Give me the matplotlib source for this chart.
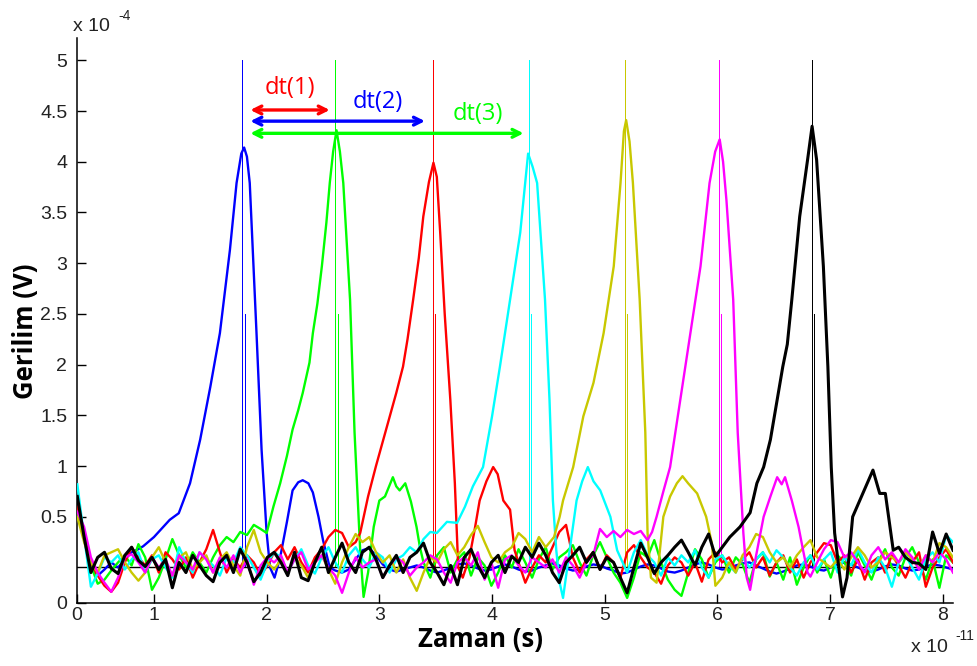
import numpy as np
import matplotlib
import matplotlib.pyplot as plt

matplotlib.use("Agg")

plt.rcParams["font.family"] = "Liberation Sans"

# units: time in 1e-11 s, voltage in 1e-4 V
grid = np.linspace(0.32, 8.09, 130)

colors = ["#0000ff", "#00ff00", "#ff0000", "#00ffff", "#c8c800", "#ff00ff", "#000000"]

# noise before/after each pulse, sampled on the shared grid
blue_pre = [0.62, 0.30, 0.02, -0.08, -0.02, 0.05, 0.0, 0.08, 0.15]
blue_t = [0.86, 0.905, 1.0, 1.14, 1.22, 1.32, 1.41, 1.50, 1.585, 1.674, 1.733, 1.775, 1.80, 1.825, 1.85,
          1.91, 1.955, 2.0, 2.03, 2.07, 2.12, 2.18, 2.23, 2.28, 2.32, 2.37, 2.41, 2.46, 2.5, 2.56]
blue_v = [0.18, 0.21, 0.3, 0.47, 0.535, 0.83, 1.26, 1.78, 2.31, 3.13, 3.79, 4.08, 4.14, 4.05, 3.79,
          2.31, 1.16, 0.34, 0.0, -0.1, 0.1, 0.45, 0.76, 0.84, 0.86, 0.83, 0.74, 0.5, 0.27, 0.0]
blue_post = [-0.03, -0.05, -0.02, 0.08, 0.17, 0.19, 0.12, 0.03, -0.02, -0.04,
             -0.02, 0.0, 0.02, 0.0, -0.03, -0.05, -0.03, 0.0, 0.03, 0.04,
             0.02, -0.01, -0.03, -0.02, 0.01, 0.03, 0.01, -0.02, -0.04, -0.03,
             0.0, 0.02, 0.04, 0.02, -0.01, -0.03, -0.02, 0.01, 0.03, 0.02,
             -0.01, -0.03, -0.06, -0.05, -0.02, 0.01, 0.03, 0.02, -0.01, -0.04,
             -0.05, -0.03, 0.0, 0.03, 0.05, 0.03, 0.0, -0.02, -0.01, 0.02,
             0.04, 0.05, 0.02, -0.01, -0.04, -0.06, -0.04, -0.01, 0.02, 0.03,
             0.01, -0.02, -0.03, 0.0, 0.03, 0.05, 0.03, 0.0, -0.03, -0.04,
             -0.02, 0.01, 0.03, 0.02, -0.01, -0.03, -0.02, 0.01, 0.03, 0.02,
             0.0, -0.02]

green_pre = [0.55, 0.28, 0.02, -0.16, -0.12, -0.03, 0.05, 0.12, 0.02, 0.23,
             0.1, -0.22, -0.1, 0.08, 0.28, 0.12, 0.0, 0.15, 0.05, -0.05,
             0.1, 0.22, 0.3, 0.25, 0.35, 0.32, 0.42, 0.38]
green_t = [2.0, 2.06, 2.12, 2.18, 2.23, 2.28, 2.32, 2.38, 2.41, 2.45, 2.49, 2.53, 2.56, 2.59, 2.62, 2.65,
           2.68, 2.74, 2.78, 2.83, 2.86, 2.9, 2.95, 3.0, 3.05, 3.12, 3.15, 3.18, 3.23, 3.28, 3.33, 3.36]
green_v = [0.34, 0.6, 0.83, 1.1, 1.36, 1.55, 1.72, 2.02, 2.31, 2.6, 2.97, 3.4, 3.79, 4.1, 4.31, 4.1,
           3.79, 2.64, 1.33, 0.17, -0.29, -0.05, 0.4, 0.66, 0.7, 0.89, 0.8, 0.76, 0.83, 0.65, 0.4, 0.2]
green_post = [0.05, -0.1, 0.12, 0.2, -0.05, 0.08, 0.15, -0.08, 0.1, 0.02,
              -0.18, -0.05, 0.12, 0.0, 0.18, 0.05, -0.1, 0.08, 0.2, -0.02,
              0.1, 0.15, 0.22, 0.05, -0.08, 0.12, 0.25, 0.1, -0.05, -0.15,
              -0.3, -0.1, 0.15, 0.1, 0.27, 0.05, -0.12, -0.22, -0.28, -0.05,
              0.18, 0.08, -0.1, 0.05, 0.12, -0.05, 0.1, 0.03, -0.15, 0.08,
              0.15, -0.09, 0.05, -0.12, 0.1, -0.17, 0.0, 0.12, -0.05, 0.08,
              -0.1, 0.12, 0.05, -0.08, 0.15, 0.02, -0.12, 0.06, 0.18, 0.0,
              -0.08, 0.1, 0.2, 0.05, -0.12, 0.08, -0.2, 0.12, 0.05]

red_pre = [0.6, 0.32, 0.05, -0.08, -0.18, -0.24, -0.15, 0.05, 0.2, 0.1,
           0.02, 0.12, -0.05, 0.15, 0.08, -0.02, 0.1, -0.1, 0.05, 0.18,
           0.37, 0.15, -0.05, 0.08, 0.0, 0.12, 0.05, -0.08, 0.02, 0.15,
           0.22, 0.08, 0.2, 0.05, -0.05, 0.1, 0.18, 0.3, 0.37, 0.34,
           0.2, 0.25]
red_t = [2.83, 2.9, 2.97, 3.06, 3.15, 3.21, 3.25, 3.30, 3.35, 3.39, 3.44, 3.48, 3.51, 3.54, 3.58,
         3.63, 3.67, 3.70, 3.74, 3.8, 3.85, 3.89, 3.95, 4.01, 4.05, 4.10, 4.16, 4.2]
red_v = [0.34, 0.7, 1.0, 1.36, 1.72, 1.98, 2.25, 2.64, 3.05, 3.46, 3.8, 3.99, 3.85, 3.3, 2.5,
         1.65, 0.83, 0.0, -0.1, 0.1, 0.4, 0.66, 0.85, 0.99, 0.92, 0.66, 0.57, 0.17]
red_post = [0.05, -0.15, 0.0, 0.12, 0.05, 0.2, 0.35, 0.42, 0.1, -0.05,
            0.08, 0.15, -0.02, 0.12, 0.05, -0.1, 0.15, 0.22, 0.1, 0.0,
            -0.05, -0.16, 0.02, 0.1, 0.05, -0.08, 0.05, -0.14, 0.08, 0.15,
            0.05, 0.1, -0.02, 0.08, 0.15, 0.0, 0.1, -0.08, 0.05, 0.12,
            -0.05, 0.08, -0.1, 0.05, 0.15, 0.24, 0.22, 0.05, 0.12, -0.05,
            0.08, -0.12, 0.05, 0.1, -0.05, 0.12, 0.02, -0.1, 0.05, 0.15,
            -0.19, 0.0, 0.1, 0.18, 0.05]

cyan_pre = [0.82, 0.3, -0.19, -0.06, 0.1, 0.05, 0.12, -0.02, 0.08, 0.15,
            -0.05, 0.08, 0.12, 0.0, -0.1, 0.2, 0.05, -0.05, 0.15, 0.08,
            0.02, -0.08, 0.1, 0.05, 0.2, 0.12, 0.0, -0.12, 0.05, 0.15,
            0.1, -0.05, 0.08, 0.18, 0.02, -0.06, 0.1, 0.2, 0.05, -0.05,
            0.12, 0.2, 0.08, 0.0, 0.15, 0.1, -0.05, 0.08, 0.12, 0.2,
            0.15, 0.28, 0.35]
cyan_t = [3.51, 3.6, 3.69, 3.76, 3.83, 3.92, 4.0, 4.07, 4.16, 4.25, 4.29, 4.32, 4.36, 4.4, 4.47,
          4.51, 4.54, 4.57, 4.6, 4.63, 4.68, 4.75, 4.8, 4.85, 4.9, 4.96, 5.05, 5.11]
cyan_v = [0.34, 0.45, 0.44, 0.6, 0.8, 0.99, 1.49, 1.98, 2.64, 3.3, 3.75, 4.08, 3.95, 3.79, 2.64,
          1.65, 0.66, 0.17, -0.15, -0.3, 0.1, 0.66, 0.85, 0.99, 0.85, 0.76, 0.5, 0.17]
cyan_post = [0.1, -0.05, 0.15, 0.27, 0.12, 0.05, -0.08, 0.1, 0.02, 0.12,
             0.05, 0.17, 0.0, -0.1, 0.08, 0.12, 0.02, -0.05, 0.1, 0.0,
             0.08, 0.15, 0.05, 0.17, 0.1, 0.0, -0.08, 0.05, 0.12, -0.02,
             0.08, 0.15, -0.05, 0.1, 0.02, 0.18, 0.05, -0.05, 0.1, 0.0,
             -0.19, 0.05, 0.12, 0.0, -0.12, 0.08, 0.15, 0.05, 0.32, 0.25]

yellow_pre = [0.5, 0.25, 0.05, -0.05, 0.12, 0.15, 0.18, 0.05, -0.05, -0.13,
              -0.05, 0.1, 0.2, 0.05, -0.08, 0.1, 0.15, -0.02, 0.05, 0.12,
              -0.05, 0.08, 0.15, 0.02, -0.08, 0.2, 0.37, 0.15, 0.05, -0.02,
              0.08, -0.05, 0.1, 0.02, -0.1, 0.05, 0.12, -0.02, -0.16, 0.05,
              0.2, 0.33, 0.25, 0.3, 0.15, 0.05, 0.12, -0.05, 0.08, -0.1,
              -0.23, -0.05, 0.1, 0.05, 0.18, 0.25, 0.12, 0.2, 0.32, 0.41,
              0.25, 0.1, 0.05, 0.15, 0.2, 0.34, 0.28, 0.15, 0.3, 0.2]
yellow_t = [4.55, 4.6, 4.63, 4.72, 4.81, 4.90, 4.99, 5.08, 5.14, 5.17, 5.19, 5.22, 5.25, 5.31, 5.36,
            5.38, 5.41, 5.46, 5.52, 5.58, 5.64, 5.69, 5.74, 5.82, 5.9, 5.95]
yellow_v = [0.3, 0.5, 0.66, 0.99, 1.49, 1.82, 2.31, 2.97, 3.79, 4.3, 4.41, 4.2, 3.79, 2.64, 1.33,
            0.34, -0.1, -0.15, 0.5, 0.7, 0.83, 0.9, 0.83, 0.73, 0.5, 0.24]
yellow_post = [-0.18, -0.1, 0.05, -0.05, 0.12, 0.2, 0.33, 0.3, 0.15, 0.05,
               0.1, 0.0, 0.12, 0.2, 0.27, 0.1, 0.05, 0.0, 0.08, -0.02,
               0.1, 0.2, 0.12, 0.0, 0.05, 0.15, 0.1, 0.05, 0.15, 0.08,
               0.0, 0.12, 0.05, 0.24, 0.2, 0.1]

magenta_pre = [0.55, 0.4, 0.1, -0.05, -0.15, -0.24, -0.1, 0.1, 0.13, 0.05,
               -0.05, 0.1, 0.0, 0.08, -0.08, 0.12, 0.05, -0.02, 0.15, 0.08,
               -0.05, 0.1, 0.0, 0.12, -0.05, 0.08, -0.17, 0.02, 0.1, 0.05,
               0.12, -0.05, 0.08, 0.15, -0.02, 0.05, 0.12, 0.0, -0.08, -0.25,
               -0.05, 0.1, 0.0, 0.05, 0.08, -0.1, 0.02, 0.1, 0.05, -0.08,
               0.0, 0.05, 0.12, 0.08, -0.05, -0.15, 0.05, 0.1, 0.02, 0.15,
               -0.12, 0.05, -0.2, 0.08, 0.12, 0.02, -0.05, 0.1, 0.05, 0.0,
               0.08, -0.05, 0.1, 0.02, -0.1, 0.05, 0.12, 0.38, 0.3, 0.36,
               0.3, 0.37, 0.33, 0.36, 0.27]
magenta_t = [5.42, 5.46, 5.52, 5.58, 5.67, 5.76, 5.85, 5.93, 5.98, 6.02, 6.05, 6.08, 6.14, 6.18,
             6.23, 6.26, 6.29, 6.34, 6.41, 6.47, 6.53, 6.57, 6.60, 6.66, 6.72, 6.76, 6.80]
magenta_v = [0.35, 0.5, 0.75, 0.99, 1.65, 2.31, 2.97, 3.79, 4.1, 4.22, 4.0, 3.62, 2.64, 1.33,
             0.34, -0.1, -0.22, 0.1, 0.5, 0.7, 0.89, 0.82, 0.89, 0.66, 0.4, 0.17, -0.05]
magenta_post = [-0.09, 0.05, 0.18, 0.27, 0.25, 0.1, 0.15, 0.05, -0.05, 0.12,
                0.2, 0.08, 0.15, 0.05, 0.18, 0.1, -0.02, 0.12, 0.05, 0.15,
                0.08, -0.05]

black_pre = [0.7, 0.3, -0.05, 0.1, 0.15, -0.01, -0.06, 0.12, 0.2, 0.07,
             0.01, 0.1, -0.02, 0.08, -0.2, 0.05, -0.05, 0.12, 0.02, -0.08,
             -0.14, 0.05, 0.12, -0.05, 0.18, 0.05, -0.14, -0.05, 0.1, 0.15,
             0.05, -0.08, 0.15, -0.1, -0.13, 0.05, 0.2, -0.05, 0.1, 0.24,
             0.05, -0.05, 0.15, 0.2, 0.08, -0.1, 0.02, 0.12, -0.05, 0.1,
             0.15, 0.24, 0.05, -0.05, -0.17, 0.02, -0.17, 0.1, 0.18, 0.02,
             -0.1, 0.05, 0.12, -0.05, 0.11, 0.05, 0.2, 0.1, 0.24, 0.12,
             -0.05, -0.15, 0.05, 0.12, 0.2, 0.05, 0.15, -0.02, 0.1, 0.05,
             -0.1, -0.25, 0.0, 0.24, 0.1, -0.06, 0.05, 0.12, 0.2, 0.27,
             0.15, 0.02, 0.2, 0.33, 0.11, 0.2]
black_t = [6.11, 6.20, 6.29, 6.35, 6.41, 6.47, 6.53, 6.58, 6.62, 6.66, 6.73, 6.80, 6.84, 6.88,
           6.94, 6.98, 7.01, 7.04, 7.09, 7.11, 7.15, 7.20, 7.29, 7.38, 7.44, 7.49, 7.56]
black_v = [0.3, 0.4, 0.54, 0.83, 0.99, 1.26, 1.65, 1.98, 2.2, 2.64, 3.46, 4.02, 4.35, 4.02,
           2.97, 1.98, 0.99, 0.34, -0.12, -0.29, -0.1, 0.5, 0.73, 0.96, 0.73, 0.73, 0.17]
black_post = [0.2, 0.1, 0.05, 0.04, -0.02, 0.35, 0.14, 0.33, 0.17]

curves = [
    (blue_pre, blue_t, blue_v, blue_post),
    (green_pre, green_t, green_v, green_post),
    (red_pre, red_t, red_v, red_post),
    (cyan_pre, cyan_t, cyan_v, cyan_post),
    (yellow_pre, yellow_t, yellow_v, yellow_post),
    (magenta_pre, magenta_t, magenta_v, magenta_post),
    (black_pre, black_t, black_v, black_post),
]

peak_t = [1.785, 2.61, 3.475, 4.325, 5.18, 6.01, 6.835]

dt_start = 1.855
dt_end = [2.56, 3.405, 4.28]
dt_y = [4.51, 4.40, 4.28]
dt_labels = ["dt(1)", "dt(2)", "dt(3)"]
dt_label_pos = [(2.21, 4.73), (2.99, 4.59), (3.87, 4.47)]
dt_colors = ["#ff0000", "#0000ff", "#00ff00"]

ytick_vals = [0.5, 1, 1.5, 2, 2.5, 3, 3.5, 4, 4.5, 5]
xtick_vals = [1, 2, 3, 4, 5, 6, 7, 8]

xmin, xmax = 0.317, 8.09
ymin, ymax = -0.35, 5.22

fig = plt.figure(figsize=(9.77, 6.66), dpi=100)
ax = fig.add_axes([0.0788, 0.0946, 0.8966, 0.8484])

for i in range(len(curves)):
    ax.plot([peak_t[i], peak_t[i]], [0, 5], color=colors[i], lw=0.6, antialiased=False, zorder=1)
    ax.plot([peak_t[i] + 0.02, peak_t[i] + 0.02], [0, 2.5], color=colors[i], lw=0.6,
            antialiased=False, zorder=1)

ax.axhline(0, color="black", lw=1.0, zorder=1)

for i, (pre, t, v, post) in enumerate(curves):
    xs = np.concatenate([grid[:len(pre)], t, grid[len(grid) - len(post):]])
    ys = np.concatenate([pre, v, post])
    ax.plot(xs, ys, color=colors[i], lw=2.2 if i == 6 else 1.7, zorder=2 + i)

for i in range(3):
    ax.annotate("", xy=(dt_end[i], dt_y[i]), xytext=(dt_start, dt_y[i]),
                arrowprops=dict(arrowstyle="<->", color=dt_colors[i], lw=2.4,
                                mutation_scale=14, shrinkA=0, shrinkB=0), zorder=20)
    ax.text(dt_label_pos[i][0], dt_label_pos[i][1], dt_labels[i], color=dt_colors[i],
            fontsize=17, family="Open Sans", ha="center", va="center", zorder=21)

ax.set_xlim(xmin, xmax)
ax.set_ylim(ymin, ymax)
ax.set_xticks([xmin] + xtick_vals)
ax.set_xticklabels(["0"] + [str(v) for v in xtick_vals])
ax.set_yticks([ymin] + ytick_vals)
ax.set_yticklabels(["0"] + [f"{v:g}" for v in ytick_vals])
ax.tick_params(direction="in", length=6.5, width=1, labelsize=14, labelcolor="#222222")
ax.tick_params(axis="x", pad=3)
ax.tick_params(axis="y", pad=7)

ax.spines["top"].set_visible(False)
ax.spines["right"].set_visible(False)
ax.spines["left"].set_linewidth(1.1)
ax.spines["bottom"].set_linewidth(1.1)

fig.text(25 / 977, 1 - 331 / 666, "Gerilim (V)", rotation=90, ha="center", va="center",
         fontsize=18.5, fontweight="bold", family="Open Sans")
fig.text(480 / 977, 1 - 639 / 666, "Zaman (s)", ha="center", va="center",
         fontsize=18.5, fontweight="bold", family="Open Sans")

fig.text(73 / 977, 1 - 31 / 666, "x 10", fontsize=14, ha="left", va="baseline", color="#222222")
fig.text(118 / 977, 1 - 20 / 666, "-4", fontsize=10, ha="left", va="baseline", color="#222222")
fig.text(911 / 977, 1 - 652 / 666, "x 10", fontsize=14, ha="left", va="baseline", color="#222222")
fig.text(955 / 977, 1 - 640 / 666, "-11", fontsize=10, ha="left", va="baseline", color="#222222")

fig.savefig("out.png", dpi=100)
